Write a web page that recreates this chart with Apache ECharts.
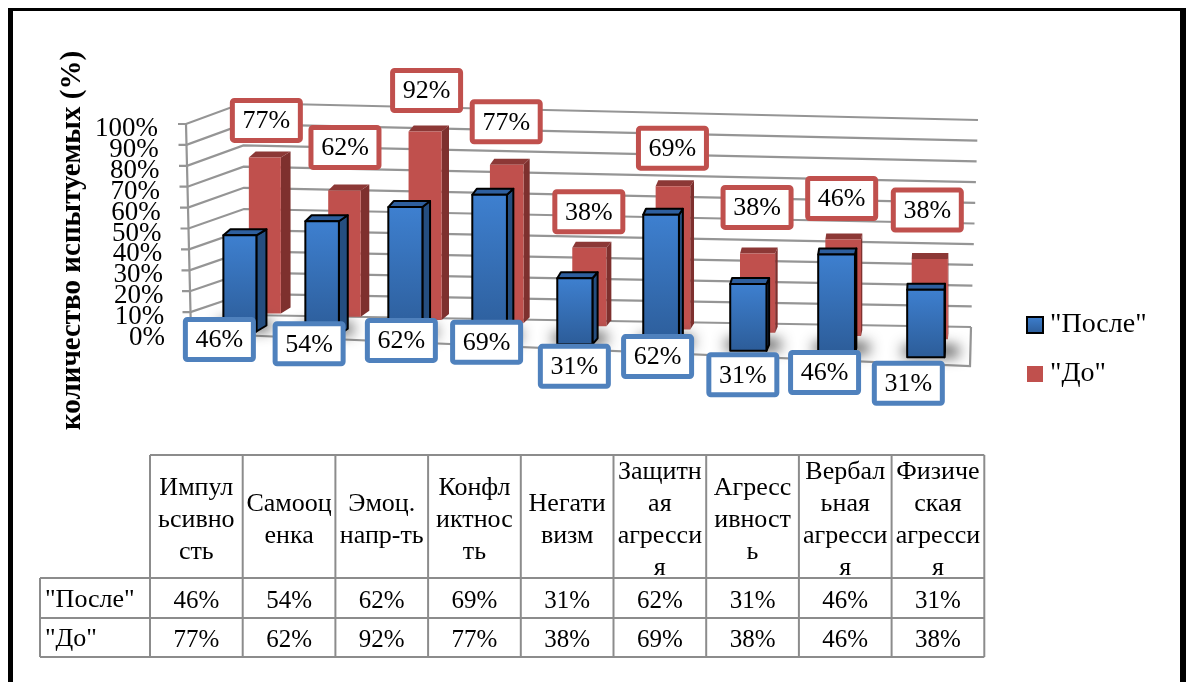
<!DOCTYPE html>
<html><head><meta charset="utf-8">
<style>html,body{margin:0;padding:0;background:#fff}#c{width:1192px;height:682px}</style>
<script src="https://cdn.jsdelivr.net/npm/echarts@6/dist/echarts.min.js"></script>
</head><body><div id="c"></div>
<script>
const categories = ['Импул\nьсивно\nсть','Самооц\nенка','Эмоц.\nнапр-ть','Конфл\nиктнос\nть','Негати\nвизм','Защитн\nая\nагресси\nя','Агресс\nивност\nь','Вербал\nьная\nагресси\nя','Физиче\nская\nагресси\nя'];
const posle = [46,54,62,69,31,62,31,46,31];
const doo = [77,62,92,77,38,69,38,46,38];
const posleName = '"После"';
const doName = '"До"';
const yTicks = [0,10,20,30,40,50,60,70,80,90,100];
const axisTitle = 'количество испытуемых (%)';

// hand-placed data-label nudges, relative to each bar (as in the original)
const redNudge = [[1.5,-37],[0.5,-43],[1.5,-41],[-0.5,-43],[-0.5,-36],[-0.5,-38],[-0.5,-46],[-1.5,-41],[-2.5,-49]];
const blueNudge = [[-20.5,8],[-13,9],[-4,2.5],[-3,1],[-0.5,22],[-3.5,9],[-5.5,24],[-12,18.5],[-17.5,26]];

const FONT = '"Liberation Serif"';
const GRID = {left:197, width:771.7, top:124, height:209};
const BLUE = '#4F81BD', RED = '#C0504D', WALL = '#959595';
const Y0 = GRID.top + GRID.height;

// oblique projection of the front plane of the axes: d=0 first row, d=1 second row
function project(x, y, d) {
  const t = (x - 240) / 686;
  const h = Y0 - y;
  return [
    x + 32 * t * (t - 1) + d * 0.0306 * (1056 - x),
    Y0 - 1.5 + (x - 240) * 0.0375 - 18 * d - h * (1 - 0.03 * d) * (1 + 0.04 * t)
  ];
}
function renderBar(d, colors, outlined) {
  return function (params, api) {
    const i = api.value(0), v = api.value(1);
    const top = api.coord([i, v]), base = api.coord([i, 0]);
    const band = api.size([1, 0])[0];
    const t = (top[0] - 240) / 686;
    const w = band * (0.385 + 0.05 * t) * (1 - 0.03 * d);
    const pt = project(top[0], top[1], d), pb = project(base[0], base[1], d);
    const xl = pt[0] - w / 2, xr = pt[0] + w / 2, yt = pt[1], yb = pb[1];
    const sr = Math.max(0.0145 * (950 - xr), 0.5), sl = sr * 0.7, dy = 6;
    const line = outlined ? {stroke:'#000', lineWidth:2, lineJoin:'round'} : {};
    const kids = [];
    if (outlined) {
      // soft floor shadow: only the blur of an off-canvas rect reaches the picture
      kids.push({type:'rect', shape:{x:xl-2004, y:yb-11, width:w+18, height:10},
        style:{fill:'#000', shadowBlur:14, shadowOffsetX:2000, shadowColor:'rgba(60,60,60,1)'}});
    }
    kids.push({type:'polygon', shape:{points:[[xr,yt],[xr+sr,yt-dy],[xr+sr,yb-dy],[xr,yb]]}, style:Object.assign({fill:colors.side}, line)});
    kids.push({type:'polygon', shape:{points:[[xl,yt],[xl+sl,yt-dy],[xr+sr,yt-dy],[xr,yt]]}, style:Object.assign({fill:colors.cap}, line)});
    kids.push({type:'polygon', shape:{points:[[xl,yt],[xr,yt],[xr,yb],[xl,yb]]}, style:Object.assign({fill:colors.front}, line)});
    return {type:'group', children:kids};
  };
}
function renderLabel(color, nudge, d, anchorTop) {
  return function (params, api) {
    const i = api.value(0), v = api.value(1);
    const c = api.coord([i, anchorTop ? v : 0]);
    const p = project(c[0], c[1], d);
    const cx = p[0] + nudge[i][0], cy = p[1] + nudge[i][1];
    return {type:'group', children:[
      {type:'rect', shape:{x:cx-34, y:cy-20, width:68, height:40, r:2},
        style:{fill:'#fff', stroke:color, lineWidth:5}},
      {type:'text', x:cx, y:cy+1, style:{text:v+'%', fill:'#000', font:'26px '+FONT, align:'center', verticalAlign:'middle'}}
    ]};
  };
}
function renderWall(params, api) {
  const v = api.value(1);
  const y = api.coord([0, v])[1], f = v / 100;
  const fx = 191 - 5 * f;
  const pts = [[fx - 8, y], [fx, y], [245 - 2 * f, y - 18 - 3 * f], [971 + 7 * f, y - 6 + 2 * f]];
  const kids = [{type:'polyline', shape:{points:pts}, style:{stroke:WALL, lineWidth:2.2, fill:'none'}}];
  if (v === 0) {
    kids.push({type:'polyline', shape:{points:[[186,GRID.top],[191,Y0],[970,Y0+33],[971,Y0-6]]}, style:{stroke:WALL, lineWidth:2.2, fill:'none'}});
  }
  // tick label follows the slanted left edge of the wall and overlaps its neighbours, as in the original
  kids.push({type:'text', x:165 - 7 * f, y:y + 5, style:{text:v+'%', fill:'#000', font:'27px '+FONT, align:'right', verticalAlign:'middle'}});
  return {type:'group', children:kids};
}

const blueFront = new echarts.graphic.LinearGradient(0,0,0,1,[{offset:0,color:'#3E80D0'},{offset:1,color:'#2C5C98'}]);
const seriesBlue = {name:posleName, type:'custom', z:4, data:posle.map((v,i)=>[i,v]), encode:{x:0,y:1},
  itemStyle:{color:'#3A78C4'}, renderItem:renderBar(0,{front:blueFront,side:'#254E80',cap:'#2E5F9E'},true)};
const seriesRed = {name:doName, type:'custom', z:3, data:doo.map((v,i)=>[i,v]), encode:{x:0,y:1},
  itemStyle:{color:RED}, renderItem:renderBar(1,{front:RED,side:'#7E302E',cap:'#8C3836'},false)};

// data table, built from the arrays above
const tX0 = 150, tCol = 92.7, tRows = [455,578,618,657], tLeft = 40;
const tableEls = [];
const hLine = (x1,y1,x2,y2)=>({type:'line', shape:{x1,y1,x2,y2}, style:{stroke:'#8C8C8C', lineWidth:2}});
categories.forEach((c,i)=>{
  const cx = tX0 + tCol*(i+0.5);
  tableEls.push({type:'text', x:cx, y:520, style:{text:c, font:'26px '+FONT, lineHeight:32, fill:'#000', align:'center', verticalAlign:'middle'}});
  tableEls.push({type:'text', x:cx, y:601, style:{text:posle[i]+'%', font:'25px '+FONT, fill:'#000', align:'center', verticalAlign:'middle'}});
  tableEls.push({type:'text', x:cx, y:640, style:{text:doo[i]+'%', font:'25px '+FONT, fill:'#000', align:'center', verticalAlign:'middle'}});
});
for (let i=0;i<=categories.length;i++) { const x=tX0+tCol*i; tableEls.push(hLine(x,tRows[0],x,tRows[3])); }
tableEls.push(hLine(tX0,tRows[0],tX0+tCol*9,tRows[0]));
tRows.slice(1).forEach(y=>tableEls.push(hLine(tLeft,y,tX0+tCol*9,y)));
tableEls.push(hLine(tLeft,tRows[1],tLeft,tRows[3]));
tableEls.push({type:'text', x:45, y:600, style:{text:posleName, font:'26px '+FONT, fill:'#000', verticalAlign:'middle'}});
tableEls.push({type:'text', x:45, y:639, style:{text:doName, font:'26px '+FONT, fill:'#000', verticalAlign:'middle'}});
// page frame
[[8,8,5,674],[8,8,1178,3],[1180,8,6,674]].forEach(r=>tableEls.push({type:'rect', shape:{x:r[0],y:r[1],width:r[2],height:r[3]}, style:{fill:'#000'}}));

const chart = echarts.init(document.getElementById('c'), null, {renderer:'canvas'});
chart.setOption({
  animation:false,
  backgroundColor:'#fff',
  grid:GRID,
  xAxis:{type:'category', data:categories, show:false},
  yAxis:{type:'value', min:0, max:100, interval:10,
    name:axisTitle, nameLocation:'middle', nameRotate:90, nameGap:110,
    nameTextStyle:{fontFamily:FONT, fontWeight:'bold', fontSize:29, color:'#000', padding:[0,24,0,0]},
    axisLine:{show:false}, axisTick:{show:false}, splitLine:{show:false}, axisLabel:{show:false}},
  legend:{orient:'vertical', left:1026, top:311, padding:0, itemWidth:16, itemHeight:16, itemGap:21, icon:'rect',
    data:[
      {name:posleName, itemStyle:{color:blueFront, borderColor:'#000', borderWidth:2}},
      {name:doName, itemStyle:{color:RED, borderWidth:0}}
    ],
    textStyle:{fontFamily:FONT, fontSize:28, color:'#000', padding:[0,0,0,2]}},
  graphic:tableEls,
  series:[
    {name:'walls', type:'custom', z:1, silent:true, data:yTicks.map(v=>[0,v]), encode:{x:0,y:1}, renderItem:renderWall},
    seriesRed,
    seriesBlue,
    {name:'labelsDo', type:'custom', z:6, silent:true, data:doo.map((v,i)=>[i,v]), encode:{x:0,y:1}, renderItem:renderLabel(RED,redNudge,1,true)},
    {name:'labelsPosle', type:'custom', z:6, silent:true, data:posle.map((v,i)=>[i,v]), encode:{x:0,y:1}, renderItem:renderLabel(BLUE,blueNudge,0,false)}
  ]
});
</script></body></html>
